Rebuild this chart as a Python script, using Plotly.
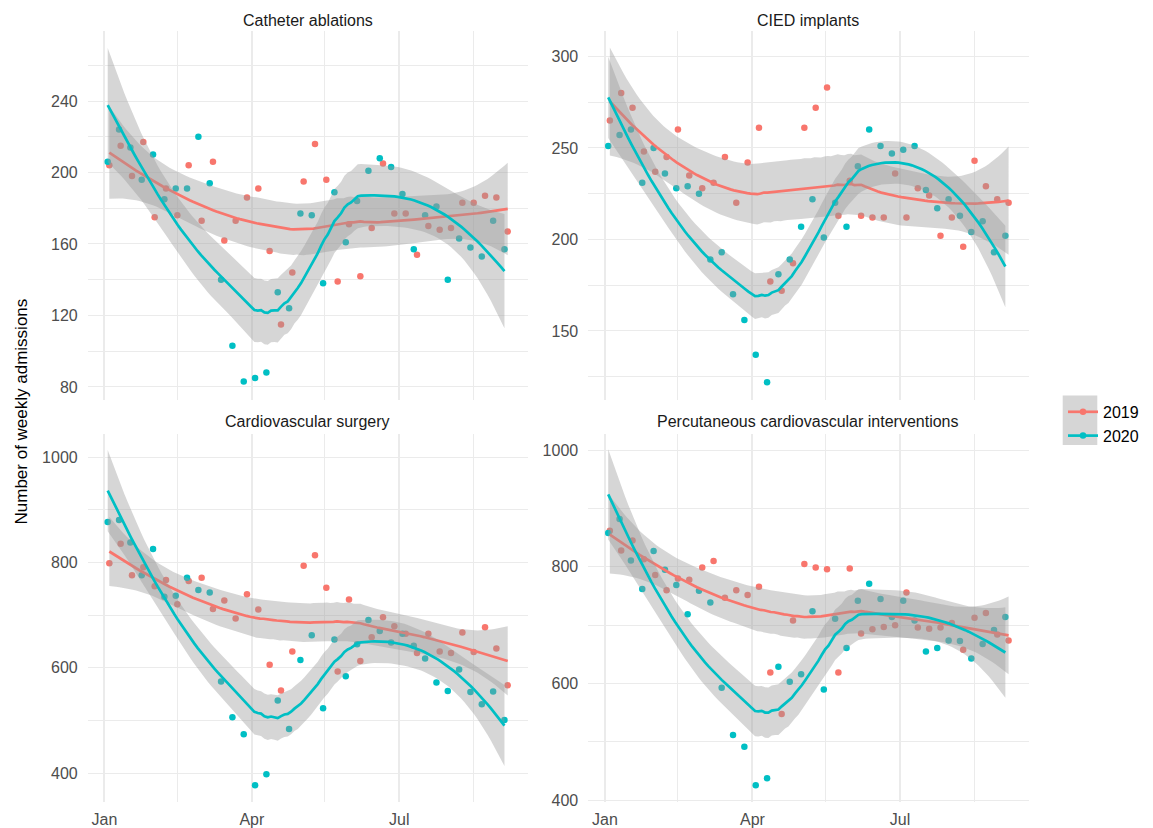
import numpy as np
import pandas as pd
import plotly.graph_objects as go

# ---------------- data ----------------
panel_titles = ["Catheter ablations", "CIED implants",
                "Cardiovascular surgery", "Percutaneous cardiovascular interventions"]

weeks_2019 = pd.date_range("2019-01-04", periods=36, freq="7D")
weeks_2020 = pd.date_range("2020-01-03", periods=36, freq="7D")

ablation_2019 = [204, 215, 198, 217, 175, 191, 176, 204, 173, 206, 162, 173, 186, 191, 156, 115, 144, 195,
                 216, 196, 139, 171, 142, 169, 205, 177, 177, 154, 170, 168, 169, 183, 183, 187, 186, 167]
ablation_2020 = [206, 224, 214, 196, 210, 185, 191, 191, 220, 194, 140, 103, 83, 85, 88, 133, 124, 177,
                 176, 138, 189, 161, 184, 201, 208, 203, 188, 157, 176, 181, 140, 163, 158, 153, 173, 157]

cied_2019 = [265, 280, 272, 248, 237, 245, 260, 235, 228, 231, 245, 220, 242, 261, 177, 172, 187, 261,
             272, 283, 213, 232, 213, 212, 212, 236, 212, 228, 224, 202, 212, 196, 243, 229, 222, 220]
cied_2020 = [251, 257, 260, 231, 250, 236, 228, 229, 225, 189, 193, 170, 156, 137, 122, 181, 189, 207,
             222, 201, 220, 207, 240, 260, 251, 247, 249, 251, 227, 217, 222, 213, 204, 210, 193, 202]

surgery_2019 = [799, 836, 776, 791, 755, 767, 721, 765, 771, 712, 728, 694, 740, 711, 606, 557, 631, 794,
                814, 752, 593, 730, 613, 658, 696, 679, 665, 628, 665, 631, 628, 667, 630, 677, 637, 567]
surgery_2020 = [877, 881, 838, 776, 826, 735, 737, 771, 748, 743, 574, 506, 474, 377, 398, 538, 484, 615,
                662, 523, 654, 584, 645, 691, 670, 648, 665, 642, 618, 572, 556, 597, 554, 531, 555, 501]

pci_2019 = [862, 828, 845, 813, 786, 760, 780, 778, 799, 810, 747, 760, 752, 766, 619, 548, 708, 805,
            799, 796, 619, 797, 686, 693, 697, 700, 756, 696, 694, 696, 704, 658, 713, 721, 684, 674]
pci_2020 = [858, 882, 811, 762, 827, 795, 769, 719, 759, 739, 593, 512, 492, 426, 438, 629, 603, 616,
            724, 590, 711, 661, 742, 771, 745, 714, 742, 708, 655, 661, 674, 673, 643, 668, 692, 714]

series_2019 = [ablation_2019, cied_2019, surgery_2019, pci_2019]
series_2020 = [ablation_2020, cied_2020, surgery_2020, pci_2020]

x_tick_dates = ["2020-01-01", "2020-04-01", "2020-07-01"]
x_tick_text = ["Jan", "Apr", "Jul"]
x_minor_dates = ["2020-02-15", "2020-05-16", "2020-08-16"]

y_ticks = [[80, 120, 160, 200, 240], [150, 200, 250, 300], [400, 600, 800, 1000], [400, 600, 800, 1000]]
y_minor = [[100, 140, 180, 220, 260], [125, 175, 225, 275], [300, 500, 700, 900], [300, 500, 700, 900]]
y_ranges = [[72.8, 279.3], [112.4, 314.0], [344.2, 1045.3], [396.4, 1028.4]]

years = ["2019", "2020"]
colors = {"2019": "#F8766D", "2020": "#00BFC4"}

# ---------------- loess (degree 2, span 0.75, like geom_smooth default) ----------------
def t_quantile(df, z=1.959964):
    return (z + (z**3 + z) / (4 * df) + (5 * z**5 + 16 * z**3 + 3 * z) / (96 * df**2)
            + (3 * z**7 + 19 * z**5 + 17 * z**3 - 15 * z) / (384 * df**3))


def loess(x, y, xg, span=0.75):
    x = np.asarray(x, float)
    y = np.asarray(y, float)
    n = len(x)
    q = int(np.floor(n * span))

    def lvec(x0):
        d = np.abs(x - x0)
        h = np.sort(d)[q - 1]
        w = np.clip(1 - (d / h) ** 3, 0, None) ** 3
        X = np.column_stack([np.ones(n), x - x0, (x - x0) ** 2])
        XtW = X.T * w
        return np.linalg.solve(XtW @ X, XtW)[0]

    L = np.array([lvec(v) for v in x])
    res = y - L @ y
    M = np.eye(n) - L
    MM = M.T @ M
    d1 = np.trace(MM)
    d2 = np.trace(MM @ MM)
    sigma = np.sqrt(np.sum(res ** 2) / d1)
    df = d1 ** 2 / d2
    G = np.array([lvec(v) for v in xg])
    fit = G @ y
    se = sigma * np.sqrt(np.sum(G ** 2, axis=1))
    t = t_quantile(df)
    return fit, fit - t * se, fit + t * se


base = pd.Timestamp("2020-01-01")
dates = {"2019": weeks_2019 + pd.DateOffset(years=1), "2020": weeks_2020}
days = {k: np.asarray((v - base).days, float) / 7.0 for k, v in dates.items()}  # in weeks

# ---------------- layout geometry (pixels of the 1153x828 page) ----------------
W, H = 1153, 828
col_px = [(87.7, 527.7), (588.2, 1028.6)]
row_px = [(31.0, 402.7), (436.7, 808.3)]


def xdom(c):
    return [col_px[c][0] / W, col_px[c][1] / W]


def ydom(r):
    return [(H - row_px[r][1]) / H, (H - row_px[r][0]) / H]


all_dates = dates["2019"].union(dates["2020"])
dmin, dmax = all_dates.min(), all_dates.max()
pad = (dmax - dmin) * 0.05
x_range = [dmin - pad, dmax + pad]

fig = go.Figure()
font_family = "Liberation Sans, Arial, sans-serif"
grid_col = "#EBEBEB"

for p in range(4):
    r, c = divmod(p, 2)
    ax = "" if p == 0 else str(p + 1)
    xref, yref = "x" + ax, "y" + ax
    vals = {"2019": series_2019[p], "2020": series_2020[p]}
    # points first (below the ribbons, like ggplot layer order)
    for yr in years:
        fig.add_trace(go.Scatter(x=dates[yr], y=vals[yr], mode="markers",
                                 marker=dict(color=colors[yr], size=6.5),
                                 xaxis=xref, yaxis=yref, showlegend=False, hoverinfo="skip"))
    for yr in years:
        xs = days[yr]
        xg = np.linspace(xs.min(), xs.max(), 120)
        fit, lo, hi = loess(xs, vals[yr], xg)
        gd = base + pd.to_timedelta(xg * 7.0, unit="D")
        fig.add_trace(go.Scatter(x=list(gd) + list(gd[::-1]), y=list(hi) + list(lo[::-1]),
                                 fill="toself", fillcolor="rgba(153,153,153,0.4)",
                                 line=dict(width=0), mode="lines",
                                 xaxis=xref, yaxis=yref, showlegend=False, hoverinfo="skip"))
        fig.add_trace(go.Scatter(x=gd, y=fit, mode="lines",
                                 line=dict(color=colors[yr], width=2.7),
                                 xaxis=xref, yaxis=yref, showlegend=False, hoverinfo="skip"))

    fig.layout["xaxis" + ax] = dict(
        domain=xdom(c), anchor=yref, type="date", range=x_range,
        tickmode="array", tickvals=x_tick_dates, ticktext=x_tick_text,
        showticklabels=(r == 1), ticks="", ticklabelstandoff=6,
        tickfont=dict(size=16, color="#4D4D4D", family=font_family),
        showgrid=True, gridcolor=grid_col, gridwidth=1.5,
        minor=dict(tickmode="array", tickvals=x_minor_dates, showgrid=True,
                   gridcolor=grid_col, gridwidth=0.8),
        zeroline=False, showline=False, fixedrange=True)
    fig.layout["yaxis" + ax] = dict(
        domain=ydom(r), anchor=xref, range=y_ranges[p],
        tickmode="array", tickvals=y_ticks[p], ticks="", ticklabelstandoff=9,
        tickfont=dict(size=16, color="#4D4D4D", family=font_family),
        showgrid=True, gridcolor=grid_col, gridwidth=1.2,
        minor=dict(tickmode="array", tickvals=y_minor[p], showgrid=True,
                   gridcolor=grid_col, gridwidth=0.7),
        zeroline=False, showline=False, fixedrange=True)

    fig.add_annotation(text=panel_titles[p], xref="paper", yref="paper",
                       x=sum(xdom(c)) / 2, y=ydom(r)[1] + (10.5 if r == 0 else 12.0) / H,
                       xanchor="center", yanchor="middle", showarrow=False,
                       font=dict(size=16, color="#1A1A1A", family=font_family))

# legend entries
for yr in years:
    fig.add_trace(go.Scatter(x=[None], y=[None], mode="lines+markers", name=yr,
                             line=dict(color=colors[yr], width=2.7),
                             marker=dict(color=colors[yr], size=6.5),
                             xaxis="x", yaxis="y", showlegend=True))

# grey legend key background
fig.add_shape(type="rect", xref="paper", yref="paper",
              x0=1062.7 / W, x1=1097.3 / W, y0=(H - 448.3) / H, y1=(H - 398.3) / H,
              fillcolor="rgb(214,214,214)", line=dict(width=0), layer="above")

fig.add_annotation(text="Number of weekly admissions", xref="paper", yref="paper",
                   x=21 / W, y=(H - 414.5) / H, textangle=-90, showarrow=False,
                   xanchor="center", yanchor="middle",
                   font=dict(size=17, color="#000000", family=font_family))

fig.update_layout(
    width=W, height=H, margin=dict(l=0, r=0, t=0, b=0),
    paper_bgcolor="white", plot_bgcolor="white",
    font=dict(family=font_family),
    legend=dict(x=1063 / W, y=(H - 427.0) / H, xanchor="left", yanchor="middle",
                bgcolor="rgba(0,0,0,0)", font=dict(size=16, color="#000000", family=font_family),
                tracegroupgap=0),
    hovermode=False,
)

fig.write_html("out.html", config={"displayModeBar": False},
               post_script="document.body.style.margin='0px';document.body.style.padding='0px';"
                           "document.body.style.overflow='hidden';")
